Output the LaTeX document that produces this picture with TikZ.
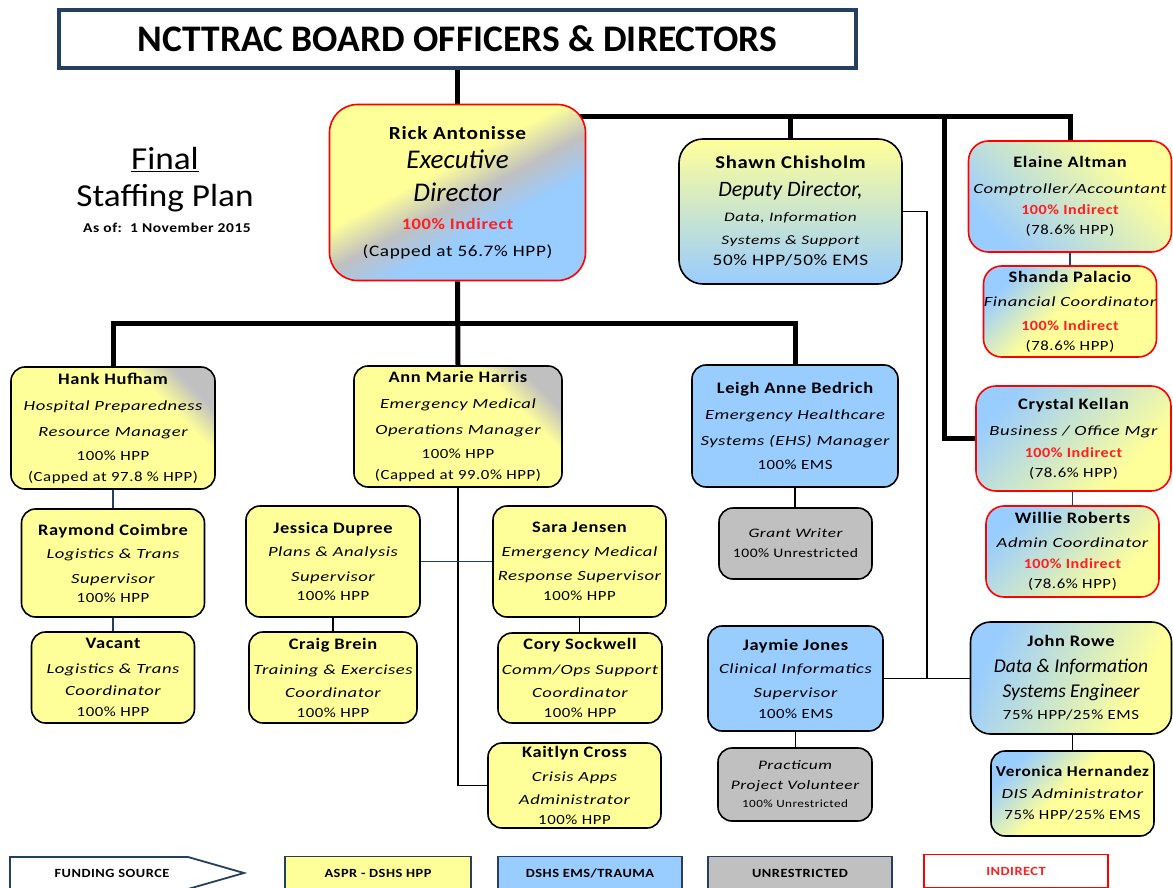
\documentclass[tikz,border=0pt]{standalone}
\usepackage{fontspec}
\setmainfont{Carlito}
\newfontfamily\wide[LetterSpace=4,
  UprightFeatures={FakeStretch=1.2},
  BoldFeatures={FakeStretch=1.15},
  ItalicFeatures={FakeStretch=1.33}]{Carlito}
\newfontfamily\capfont[FakeStretch=1.1]{Carlito}
\pgfdeclarelayer{bg}
\pgfsetlayers{bg,main}
\definecolor{hpp}{HTML}{FFFF99}
\definecolor{ems}{HTML}{99CCFF}
\definecolor{unr}{HTML}{C0C0C0}
\definecolor{navy}{HTML}{243F60}
\definecolor{ind}{HTML}{FF1F1F}
% funding-source shadings
\pgfdeclarehorizontalshading{ygb}{100bp}{color(0bp)=(hpp); color(25bp)=(hpp); color(43bp)=(hpp); color(52bp)=(unr); color(61bp)=(ems); color(75bp)=(ems); color(100bp)=(ems)}
\pgfdeclarehorizontalshading{b2y}{100bp}{color(0bp)=(ems); color(25bp)=(ems); color(70bp)=(hpp); color(100bp)=(hpp)}
\pgfdeclarehorizontalshading{bcorner}{100bp}{color(0bp)=(ems); color(25bp)=(ems); color(47bp)=(hpp); color(100bp)=(hpp)}
\pgfdeclarehorizontalshading{gcorner}{100bp}{color(0bp)=(hpp); color(67bp)=(hpp); color(76bp)=(unr); color(100bp)=(unr)}
\newcommand\nm[1]{{\bfseries\fontsize{16}{22}\selectfont #1}}
\newcommand\rl[1]{{\itshape #1}}
\newcommand\titleline[2]{{\rmfamily\itshape\fontsize{#1}{22}\selectfont #2}}
\newcommand\indr{{\color{ind}\bfseries 100\% Indirect}}
\begin{document}
\begin{tikzpicture}[x=1pt,y=-1pt,
  box/.style={draw=black, line width=1.6pt, rounded corners=14pt, inner sep=0pt,
    align=center, font=\wide\fontsize{14}{22}\selectfont},
  redbox/.style={box, draw=red},
  dims/.style 2 args={minimum width=#1pt, minimum height=#2pt},
  hppfill/.style={fill=hpp},
  emsfill/.style={fill=ems},
  unrfill/.style={fill=unr},
  thickline/.style={line width=5pt},
  thinline/.style={line width=1.4pt},
  navyline/.style={line width=1.8pt, draw=navy},
  legend/.style={draw=navy, line width=1.8pt, inner sep=0pt, minimum height=33pt,
    font=\wide\bfseries\fontsize{12.5}{14}\selectfont}]
\useasboundingbox (0,0) rectangle (1173,888);
\clip (0,0) rectangle (1173,888);

% title bar
\node[draw=navy, line width=4pt, minimum width=797pt, minimum height=58pt, inner sep=0pt,
  font=\bfseries\fontsize{37.5}{40}\selectfont] (title) at (457.5,39) {NCTTRAC BOARD OFFICERS \& DIRECTORS};

% plan caption
\node (final) at (165,160) {\capfont\fontsize{32}{34}\selectfont\underline{Final}};
\node (plan) at (165,198) {\capfont\fontsize{32}{34}\selectfont Staffing Plan};
\node (asof) at (167,228) {\wide\bfseries\fontsize{13.5}{14}\selectfont As of:\ \ 1 November 2015};

% executive level
\node[redbox, dims={256}{176}, rounded corners=28pt, shading=ygb, shading angle=-62,
  font=\wide\fontsize{16}{22}\selectfont] (rick) at (457.5,192.5)
  {{\bfseries\fontsize{18.5}{22}\selectfont Rick Antonisse}\\[7pt]
   \titleline{27}{Executive}\\[11pt]
   \titleline{27}{Director}\\[6pt]
   \indr\\[5pt]
   (Capped at 56.7\% HPP)};
\node[box, dims={223}{145}, rounded corners=24pt, top color=hpp, bottom color=ems, middle color=hpp!50!ems] (shawn) at (790.5,211.5)
  {{\bfseries\fontsize{18}{22}\selectfont Shawn Chisholm}\\[6pt]
   \titleline{22}{Deputy Director,}\\[3pt]
   {\itshape\fontsize{13}{22}\selectfont Data, Information}\\[1pt]
   {\itshape\fontsize{13}{22}\selectfont Systems \& Support}\\[-1pt]
   {\fontsize{16}{22}\selectfont 50\% HPP/50\% EMS}};

% finance / office column
\node[redbox, dims={203}{111}, rounded corners=20pt, shading=b2y, shading angle=45] (elaine) at (1070,196.5)
  {\nm{Elaine Altman}\\[4pt] \rl{Comptroller/Accountant}\\[-1pt] \indr\\[-2pt] (78.6\% HPP)};
\node[redbox, dims={173}{91}, rounded corners=18pt, shading=bcorner, shading angle=-45] (shanda) at (1070,311.5)
  {\nm{Shanda Palacio}\\[2pt] \rl{Financial Coordinator}\\[2pt] \indr\\[-2pt] (78.6\% HPP)};
\node[redbox, dims={195}{105}, rounded corners=20pt, shading=b2y, shading angle=-45] (crystal) at (1073.5,438.5)
  {\nm{Crystal Kellan}\\[4pt] \rl{Business / Office Mgr}\\[0pt] \indr\\[-2pt] (78.6\% HPP)};
\node[redbox, dims={173}{91}, rounded corners=18pt, shading=b2y, shading angle=-45] (willie) at (1072.5,551.5)
  {\nm{Willie Roberts}\\[2pt] \rl{Admin Coordinator}\\[-1pt] \indr\\[-2pt] (78.6\% HPP)};

% managers
\node[box, dims={204}{122}, shading=gcorner, shading angle=45] (hank) at (113,428)
  {\nm{Hank Hufham}\\[4pt] \rl{Hospital Preparedness}\\[4pt] \rl{Resource Manager}\\[2pt] 100\% HPP\\[-1pt] (Capped at 97.8 \% HPP)};
\node[box, dims={208}{121}, shading=gcorner, shading angle=45] (ann) at (458,426.5)
  {\nm{Ann Marie Harris}\\[4pt] \rl{Emergency Medical}\\[4pt] \rl{Operations Manager}\\[2pt] 100\% HPP\\[-1pt] (Capped at 99.0\% HPP)};
\node[box, dims={206}{122}, emsfill] (leigh) at (795,426)
  {\nm{Leigh Anne Bedrich}\\[4pt] \rl{Emergency Healthcare}\\[4pt] \rl{Systems (EHS) Manager}\\[2pt] 100\% EMS};

% hospital preparedness team
\node[box, dims={183}{108}, hppfill] (raymond) at (113,563)
  {\nm{Raymond Coimbre}\\[1pt] \rl{Logistics \& Trans}\\[3pt] \rl{Supervisor}\\[-3pt] 100\% HPP};
\node[box, dims={163}{91}, hppfill] (vacant) at (113,677.5)
  {\nm{Vacant}\\[3pt] \rl{Logistics \& Trans}\\[0pt] \rl{Coordinator}\\[-1pt] 100\% HPP};

% emergency medical team
\node[box, dims={174}{111}, hppfill] (jessica) at (333,561.5)
  {\nm{Jessica Dupree}\\[1pt] \rl{Plans \& Analysis}\\[3pt] \rl{Supervisor}\\[-3pt] 100\% HPP};
\node[box, dims={168}{91}, hppfill] (craig) at (333,677.5)
  {\nm{Craig Brein}\\[3pt] \rl{Training \& Exercises}\\[1pt] \rl{Coordinator}\\[-2pt] 100\% HPP};
\node[box, dims={173}{111}, hppfill] (sara) at (579.5,561.5)
  {\nm{Sara Jensen}\\[2pt] \rl{Emergency Medical}\\[2pt] \rl{Response Supervisor}\\[-2pt] 100\% HPP};
\node[box, dims={164}{90}, hppfill] (cory) at (580,678)
  {\nm{Cory Sockwell}\\[3pt] \rl{Comm/Ops Support}\\[1pt] \rl{Coordinator}\\[-2pt] 100\% HPP};
\node[box, dims={173}{85}, hppfill] (kaitlyn) at (574.5,785.5)
  {\nm{Kaitlyn Cross}\\[2pt] \rl{Crisis Apps}\\[1pt] \rl{Administrator}\\[-2pt] 100\% HPP};

% healthcare systems / data team
\node[box, dims={153}{71}, unrfill, font=\wide\fontsize{13}{22}\selectfont] (grant) at (795.5,543.5)
  {\rl{Grant Writer}\\[-2pt] 100\% Unrestricted};
\node[box, dims={175}{105}, emsfill] (jaymie) at (795.5,678.5)
  {\nm{Jaymie Jones}\\[1pt] \rl{Clinical Informatics}\\[2pt] \rl{Supervisor}\\[-1pt] 100\% EMS};
\node[box, dims={154}{73}, unrfill, font=\wide\fontsize{13}{22}\selectfont] (practicum) at (795,784.5)
  {\rl{Practicum}\\[-2pt] \rl{Project Volunteer}\\[-4pt] {\fontsize{11}{14}\selectfont 100\% Unrestricted}};
\node[box, dims={201}{112}, rounded corners=20pt, shading=b2y, shading angle=-25] (john) at (1071,678)
  {\nm{John Rowe}\\[4pt] \titleline{19.5}{Data \& Information}\\[3pt] \titleline{19.5}{Systems Engineer}\\[0pt] 75\% HPP/25\% EMS};
\node[box, dims={163}{85}, shading=bcorner, shading angle=-45] (veronica) at (1072.5,793.5)
  {{\bfseries\fontsize{15}{22}\selectfont Veronica Hernandez}\\[0pt] \rl{DIS Administrator}\\[-1pt] 75\% HPP/25\% EMS};

% legend
\node[legend, minimum width=186pt, fill=hpp] (aspr) at (378,873) {ASPR - DSHS HPP};
\node[legend, minimum width=184pt, fill=ems] (dshs) at (590,873) {DSHS EMS/TRAUMA};
\node[legend, minimum width=184pt, fill=unr] (unrest) at (800,873) {UNRESTRICTED};
\node[legend, minimum width=184pt, draw=red, text=ind] (indirect) at (1016,871) {INDIRECT};
\draw[draw=navy, line width=1.8pt, fill=white] (10,857) -- (188,857) -- (244,873) -- (188,889) -- (10,889) -- cycle;
\node[font=\wide\bfseries\fontsize{12.5}{14}\selectfont] (funding) at (112,873) {FUNDING SOURCE};

% reporting lines
\begin{pgfonlayer}{bg}
  \coordinate (topbus) at (1071,117);
  \coordinate (midbus) at (0,323);
  \coordinate (officebranch) at (944,117);
  \coordinate (datajoin) at (927,679);
  \draw[thickline] (title.south) -- (rick.north);
  \draw[thickline] (rick.center |- topbus) -| (elaine.north);
  \draw[thickline] (shawn.north) -- (shawn.north |- topbus);
  \draw[thickline] (officebranch) |- (crystal.west);
  \draw[thickline] (rick.south) -- (ann.north);
  \draw[thickline] (hank.north) |- (leigh.north |- midbus) -- (leigh.north);
  \draw[thinline] (shawn.east) -| (datajoin);
  \draw[thinline] (jaymie.east) -- (john.west |- jaymie.east);
  \draw[thinline] (ann.south) |- (kaitlyn.west);
  \draw[navyline] (jessica.east) -- (sara.west);
  \draw[navyline] (hank.south) -- (raymond.north);
  \draw[navyline] (raymond.south) -- (vacant.north);
  \draw[thinline] (jessica.south) -- (craig.north);
  \draw[thinline] (sara.south) -- (sara.south |- cory.north);
  \draw[thinline] (leigh.south) -- (leigh.south |- grant.north);
  \draw[thinline] (jaymie.south) -- (jaymie.south |- practicum.north);
  \draw[thinline] (veronica.north) -- (veronica.north |- john.south);
  \draw[navyline] (elaine.south) -- (shanda.north);
  \draw[navyline] (willie.north) -- (willie.north |- crystal.south);
\end{pgfonlayer}
\end{tikzpicture}
\end{document}
